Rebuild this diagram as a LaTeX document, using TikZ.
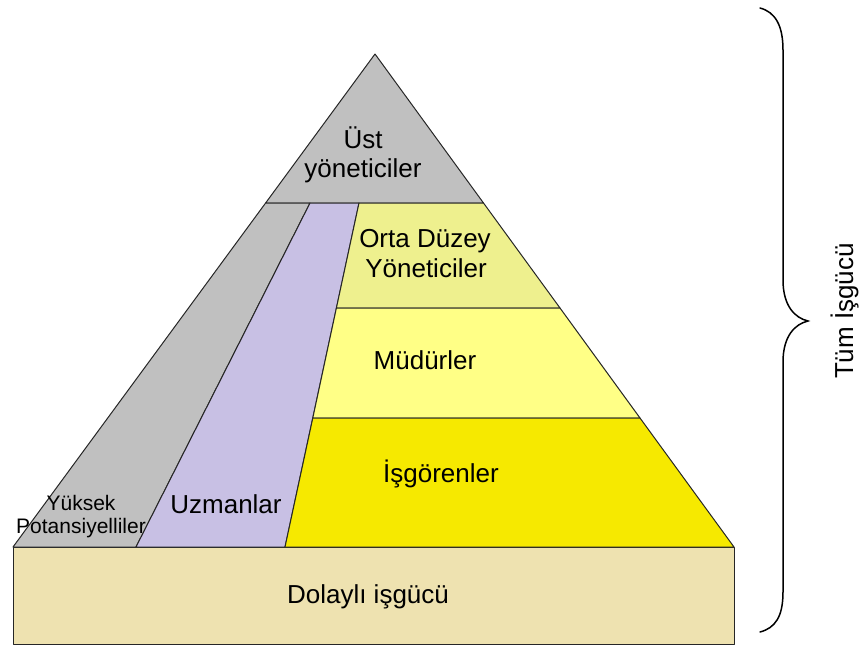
\documentclass[tikz,border=0pt]{standalone}
\usepackage{fontspec}
\setmainfont{Liberation Sans}
\begin{document}
\begin{tikzpicture}[x=1pt,y=-1pt,
  band/.style={draw=black!85,line width=1pt,line join=round},
  lbl/.style={font=\fontsize{26}{30}\selectfont,anchor=base,inner sep=0pt},
  small/.style={font=\fontsize{21}{24}\selectfont,anchor=base,inner sep=0pt}]
\useasboundingbox (0,0) rectangle (862,646);
\definecolor{topgray}{RGB}{192,192,192}
\definecolor{lavender}{RGB}{200,192,228}
\definecolor{palelime}{RGB}{238,240,142}
\definecolor{paleyellow}{RGB}{255,255,134}
\definecolor{strongyellow}{RGB}{246,233,0}
\definecolor{sand}{RGB}{238,226,176}

% pyramid corners and band boundaries
\coordinate (apex) at (375,54);
\coordinate (bl) at (13,547);
\coordinate (br) at (734,547);
\coordinate (l1) at (265.6,203);
\coordinate (r1) at (483.5,203);
\coordinate (r2) at (560,308);
\coordinate (r3) at (640,418);
\coordinate (g1) at (310,203);
\coordinate (g2) at (136,547);
\coordinate (p1) at (359,203);
\coordinate (p2) at (336.4,308);
\coordinate (p3) at (312.8,418);
\coordinate (p4) at (285,547);

% base block
\draw[band,fill=sand] (13,547) rectangle (734,644);

% pyramid regions
\draw[band,fill=topgray] (apex) -- (r1) -- (l1) -- cycle;
\draw[band,fill=topgray] (l1) -- (g1) -- (g2) -- (bl) -- cycle;
\draw[band,fill=lavender] (g1) -- (p1) -- (p4) -- (g2) -- cycle;
\draw[band,fill=palelime] (p1) -- (r1) -- (r2) -- (p2) -- cycle;
\draw[band,fill=paleyellow] (p2) -- (r2) -- (r3) -- (p3) -- cycle;
\draw[band,fill=strongyellow] (p3) -- (r3) -- (br) -- (p4) -- cycle;

% labels
\node[lbl] (ust1) at (363,148) {Üst};
\node[lbl] (ust2) at (363,177) {yöneticiler};
\node[lbl] (orta1) at (425,247) {Orta Düzey};
\node[lbl] (orta2) at (426,277) {Yöneticiler};
\node[lbl] (mudur) at (425,369) {Müdürler};
\node[lbl] (isgor) at (441,482) {İşgörenler};
\node[lbl] (uzman) at (226,513) {Uzmanlar};
\node[small] (yuk1) at (81,510) {Yüksek};
\node[small] (yuk2) at (81,533) {Potansiyelliler};
\node[lbl] (dolay) at (368,603) {Dolaylı işgücü};

% brace spanning the whole workforce
\coordinate (btop) at (760,8);
\coordinate (btip) at (808,321);
\coordinate (bbot) at (760,632);
\draw[line width=1.5pt,line cap=round] (btop) .. controls (775,12) and (783,25) .. (783,50)
  -- (783,280) .. controls (783,306) and (795,318) .. (btip)
  .. controls (795,324) and (783,336) .. (783,362)
  -- (783,592) .. controls (783,617) and (775,628) .. (bbot);
\node[lbl,rotate=90] (tum) at (853,311) {Tüm İşgücü};
\end{tikzpicture}
\end{document}
